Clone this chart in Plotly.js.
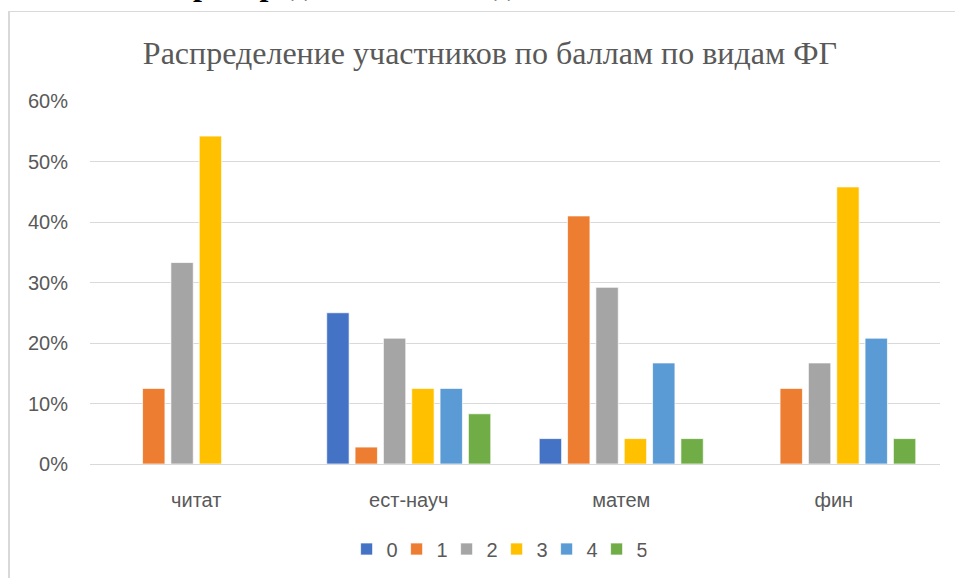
<!DOCTYPE html>
<html>
<head>
<meta charset="utf-8">
<script src="https://cdn.plot.ly/plotly-3.0.1.min.js"></script>
<style>
  html, body { margin: 0; padding: 0; background: #ffffff; overflow: hidden; }
  #wrap { position: relative; width: 955px; height: 578px; overflow: hidden; background: #fff; }
  #frame { position: absolute; left: 8px; top: 11px; width: 1100px; height: 700px;
           border-left: 2px solid #d9d9d9; border-top: 1px solid #d9d9d9; box-sizing: border-box; }
  #heading { position: absolute; left: 0; top: -34px; width: 955px; height: 36px; line-height: 36px;
             font-family: "Liberation Serif", serif; font-weight: bold; font-size: 32px;
             color: #000; white-space: nowrap; }
  #chart { position: absolute; left: 0; top: 0; width: 955px; height: 578px; }
</style>
</head>
<body>
<div id="wrap">
  <div id="heading"><span style="position:absolute; left:78px;">Анализ распределения по видам ФГ</span></div>
  <div id="frame"></div>
  <div id="chart"></div>
</div>
<script>
const chartTitle = "Распределение участников по баллам по видам ФГ";
const categories = ["читат", "ест-науч", "матем", "фин"];
const seriesNames = ["0", "1", "2", "3", "4", "5"];
const score0 = [0, 0.25, 0.042, 0];
const score1 = [0.125, 0.028, 0.41, 0.125];
const score2 = [0.333, 0.208, 0.292, 0.167];
const score3 = [0.542, 0.125, 0.042, 0.458];
const score4 = [0, 0.125, 0.167, 0.208];
const score5 = [0, 0.083, 0.042, 0.042];
const yTickVals = [0, 0.1, 0.2, 0.3, 0.4, 0.5, 0.6];
const yTickText = ["0%", "10%", "20%", "30%", "40%", "50%", "60%"];

const colors = ["#4472C4", "#ED7D31", "#A5A5A5", "#FFC000", "#5B9BD5", "#70AD47"];
const allScores = [score0, score1, score2, score3, score4, score5];

const traces = allScores.map((vals, i) => ({
  type: "bar",
  name: seriesNames[i],
  x: categories,
  y: vals,
  marker: { color: colors[i], line: { color: "rgba(255,255,255,0.7)", width: 1 } },
  hoverinfo: "x+y+name"
}));

const tickFont = { family: "Liberation Sans, Arial, sans-serif", size: 20, color: "#595959" };

const layout = {
  width: 955,
  height: 578,
  paper_bgcolor: "rgba(0,0,0,0)",
  plot_bgcolor: "rgba(0,0,0,0)",
  margin: { l: 90, r: 15, t: 101, b: 114 },
  barmode: "group",
  bargap: 0.2,
  bargroupgap: 0.21,
  title: {
    text: chartTitle,
    font: { family: "Liberation Serif, Times New Roman, serif", size: 32, color: "#595959" },
    xref: "container", x: 0.513, xanchor: "center",
    yref: "container", y: 1 - 53 / 578, yanchor: "middle"
  },
  xaxis: {
    type: "category",
    tickfont: tickFont,
    showgrid: false,
    showline: true,
    linecolor: "#d9d9d9",
    linewidth: 1,
    ticks: "",
    ticklabelstandoff: 18,
    fixedrange: true
  },
  yaxis: {
    range: [0, 0.6],
    tickvals: yTickVals,
    ticktext: yTickText,
    tickfont: tickFont,
    showgrid: true,
    gridcolor: "#d9d9d9",
    gridwidth: 1,
    zeroline: false,
    showline: false,
    ticks: "",
    ticklabelstandoff: 21,
    fixedrange: true
  },
  showlegend: true,
  legend: {
    orientation: "h",
    xref: "container", x: 0.52, xanchor: "center",
    yref: "container", y: 1 - 549 / 578, yanchor: "middle",
    font: { family: "Liberation Sans, Arial, sans-serif", size: 20, color: "#595959" },
    itemwidth: 30,
    entrywidth: 5,
    entrywidthmode: "pixels",
    traceorder: "normal",
    bgcolor: "rgba(0,0,0,0)"
  }
};

Plotly.newPlot("chart", traces, layout, { displayModeBar: false, staticPlot: true });
</script>
</body>
</html>
